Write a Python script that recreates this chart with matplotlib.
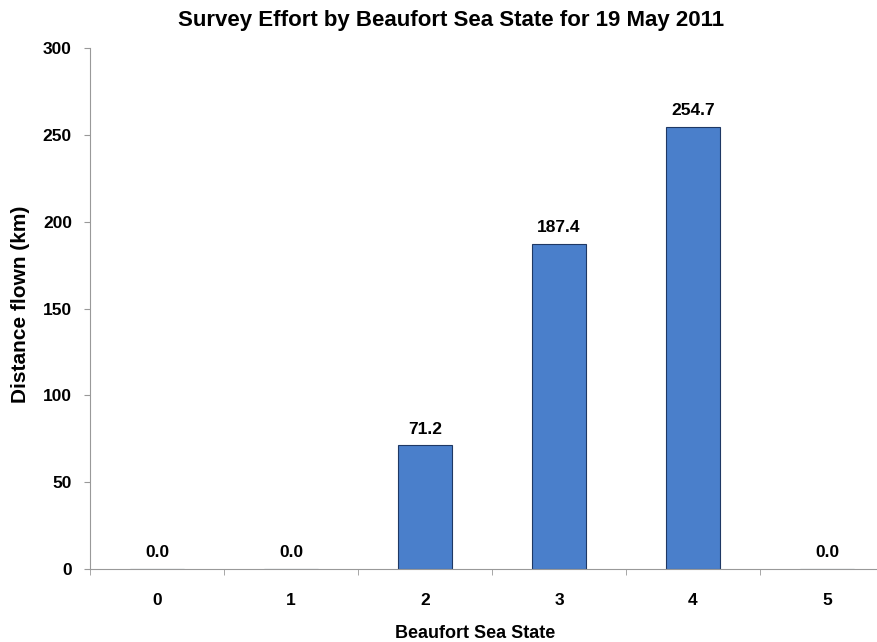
import matplotlib.pyplot as plt
import numpy as np

# data
states = ["0", "1", "2", "3", "4", "5"]
distance = [0.0, 0.0, 71.2, 187.4, 254.7, 0.0]

plt.rcParams['font.family'] = ['Liberation Sans', 'DejaVu Sans']
plt.rcParams['font.weight'] = 'bold'

fig = plt.figure(figsize=(8.77, 6.42), dpi=100)
# plot area runs slightly past the right edge like the original
ax = fig.add_axes([0.1026, 0.1137, 0.9168, 0.8115])

x = np.arange(len(states))
ax.bar(x, distance, width=0.40, color='#4a7fcb', edgecolor='#1f3864', linewidth=0.8)

for xi, v in zip(x, distance):
    ax.text(xi, v + 5, f"{v:.1f}", ha='center', va='bottom', fontsize=12.5, fontweight='bold')

ax.set_xlim(-0.5, 5.5)
ax.set_ylim(0, 300)
ax.set_yticks(np.arange(0, 301, 50))
ax.set_xticks(x)
ax.set_xticklabels(states)
# excel style tick marks between categories
ax.set_xticks(np.arange(-0.5, 6, 1), minor=True)
ax.tick_params(axis='x', which='major', length=0, pad=17, labelsize=12.5)
ax.tick_params(axis='x', which='minor', length=4, color='#999999', direction='out')
ax.tick_params(axis='y', length=4, color='#999999', direction='out', labelsize=12.5, pad=9)

for s in ['top', 'right']:
    ax.spines[s].set_visible(False)
for s in ['left', 'bottom']:
    ax.spines[s].set_color('#999999')

fig.suptitle("Survey Effort by Beaufort Sea State for 19 May 2011",
             x=0.514, y=0.984, fontsize=16, fontweight='bold')
fig.text(0.542, 0.014, "Beaufort Sea State", ha='center', va='center',
         fontsize=13, fontweight='bold')
fig.text(0.023, 0.526, "Distance flown (km)", ha='center', va='center',
         rotation=90, fontsize=15, fontweight='bold')

fig.savefig("out.png", dpi=100)
